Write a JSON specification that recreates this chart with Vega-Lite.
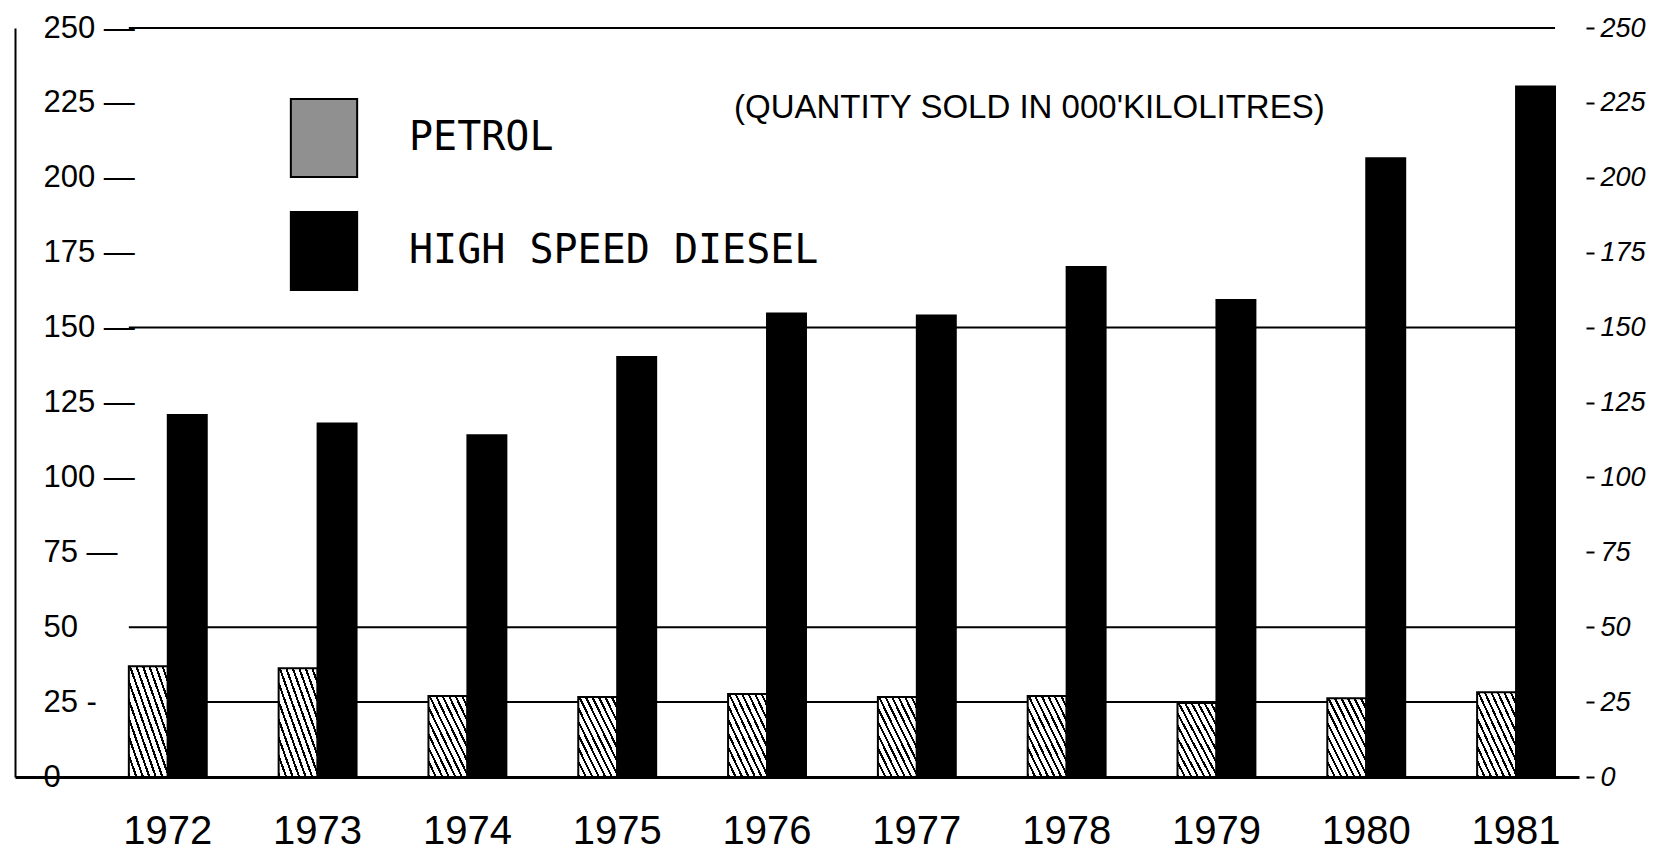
{
  "$schema": "https://vega.github.io/schema/vega-lite/v6.json",
  "width": 1564,
  "height": 749,
  "autosize": "none",
  "padding": {"left": 15, "top": 28, "right": 77, "bottom": 79},
  "background": "white",
  "config": {"view": {"stroke": null}},
  "title": {
    "text": "(QUANTITY SOLD IN 000'KILOLITRES)",
    "anchor": "start",
    "frame": "group",
    "dx": 719,
    "offset": -113,
    "baseline": "top",
    "font": "Liberation Sans",
    "fontSize": 33,
    "fontWeight": "normal",
    "color": "black"
  },
  "datasets": {
    "sales": [
      {"year": "1972", "fuel": "PETROL", "value": 37},
      {"year": "1973", "fuel": "PETROL", "value": 36.3},
      {"year": "1974", "fuel": "PETROL", "value": 27},
      {"year": "1975", "fuel": "PETROL", "value": 26.7},
      {"year": "1976", "fuel": "PETROL", "value": 27.7},
      {"year": "1977", "fuel": "PETROL", "value": 26.7},
      {"year": "1978", "fuel": "PETROL", "value": 27},
      {"year": "1979", "fuel": "PETROL", "value": 24.7},
      {"year": "1980", "fuel": "PETROL", "value": 26.3},
      {"year": "1981", "fuel": "PETROL", "value": 28.3},
      {"year": "1972", "fuel": "HIGH SPEED DIESEL", "value": 120.8},
      {"year": "1973", "fuel": "HIGH SPEED DIESEL", "value": 118},
      {"year": "1974", "fuel": "HIGH SPEED DIESEL", "value": 114.1},
      {"year": "1975", "fuel": "HIGH SPEED DIESEL", "value": 140.2},
      {"year": "1976", "fuel": "HIGH SPEED DIESEL", "value": 154.7},
      {"year": "1977", "fuel": "HIGH SPEED DIESEL", "value": 154},
      {"year": "1978", "fuel": "HIGH SPEED DIESEL", "value": 170.2},
      {"year": "1979", "fuel": "HIGH SPEED DIESEL", "value": 159.2},
      {"year": "1980", "fuel": "HIGH SPEED DIESEL", "value": 206.5},
      {"year": "1981", "fuel": "HIGH SPEED DIESEL", "value": 230.5}
    ],
    "grid": [
      {"level": 25},
      {"level": 50},
      {"level": 150},
      {"level": 250}
    ]
  },
  "layer": [
    {
      "data": {"name": "grid"},
      "mark": {"type": "rule", "color": "black", "strokeWidth": 2},
      "encoding": {
        "x": {"datum": "1972", "bandPosition": 0},
        "x2": {"datum": "1981", "bandPosition": 1},
        "y": {
          "field": "level",
          "type": "quantitative",
          "scale": {"domain": [0, 250], "nice": false, "zero": true},
          "axis": {
            "orient": "left",
            "values": [0, 25, 50, 75, 100, 125, 150, 175, 200, 225, 250],
            "grid": false,
            "domain": true,
            "domainColor": "black",
            "domainWidth": 2,
            "ticks": false,
            "tickSize": 0,
            "labelAlign": "left",
            "labelBaseline": "middle",
            "labelPadding": -28,
            "labelFont": "Liberation Sans",
            "labelFontSize": 31,
            "labelColor": "black",
            "labelFlush": false,
            "labelOverlap": false,
            "labelExpr": "datum.value == 0 ? '0' : datum.value == 25 ? datum.label + ' -' : datum.value == 50 ? datum.label : datum.label + ' —'",
            "title": null
          }
        }
      }
    },
    {
      "data": {"name": "sales"},
      "mark": {"type": "bar", "stroke": "black", "strokeWidth": 2},
      "encoding": {
        "x": {
          "field": "year",
          "type": "nominal",
          "scale": {
            "domain": ["1972", "1973", "1974", "1975", "1976", "1977", "1978", "1979", "1980", "1981"],
            "paddingInner": 0.48,
            "paddingOuter": 0.46,
            "align": 0.826
          },
          "axis": {
            "orient": "bottom",
            "domain": true,
            "domainColor": "black",
            "domainWidth": 3,
            "ticks": false,
            "tickSize": 0,
            "labelPadding": 34,
            "labelAngle": 0,
            "labelAlign": "center",
            "labelBaseline": "top",
            "labelFont": "Liberation Sans",
            "labelFontSize": 40,
            "labelColor": "black",
            "title": null
          }
        },
        "xOffset": {
          "field": "fuel",
          "type": "nominal",
          "scale": {"domain": ["PETROL", "HIGH SPEED DIESEL"], "paddingInner": 0, "paddingOuter": 0}
        },
        "y": {
          "field": "value",
          "type": "quantitative",
          "axis": {
            "orient": "right",
            "values": [0, 25, 50, 75, 100, 125, 150, 175, 200, 225, 250],
            "grid": false,
            "domain": false,
            "ticks": true,
            "tickSize": 8,
            "tickWidth": 2,
            "tickColor": "black",
            "offset": 7,
            "labelPadding": 6,
            "labelFont": "Liberation Sans",
            "labelFontStyle": "italic",
            "labelFontSize": 27,
            "labelColor": "black",
            "labelFlush": false,
            "labelOverlap": false,
            "title": null
          }
        },
        "fill": {
          "field": "fuel",
          "type": "nominal",
          "scale": {"domain": ["PETROL", "HIGH SPEED DIESEL"], "range": ["#909090", "black"]},
          "condition": {
            "test": "datum.fuel === 'PETROL'",
            "value": {
              "gradient": "linear",
              "x1": 0, "y1": 1, "x2": 1, "y2": 0,
              "stops": [
                {"offset": 0, "color": "black"}, {"offset": 0.028, "color": "black"}, {"offset": 0.028, "color": "white"}, {"offset": 0.083, "color": "white"},
                {"offset": 0.083, "color": "black"}, {"offset": 0.111, "color": "black"}, {"offset": 0.111, "color": "white"}, {"offset": 0.167, "color": "white"},
                {"offset": 0.167, "color": "black"}, {"offset": 0.195, "color": "black"}, {"offset": 0.195, "color": "white"}, {"offset": 0.25, "color": "white"},
                {"offset": 0.25, "color": "black"}, {"offset": 0.278, "color": "black"}, {"offset": 0.278, "color": "white"}, {"offset": 0.333, "color": "white"},
                {"offset": 0.333, "color": "black"}, {"offset": 0.361, "color": "black"}, {"offset": 0.361, "color": "white"}, {"offset": 0.417, "color": "white"},
                {"offset": 0.417, "color": "black"}, {"offset": 0.445, "color": "black"}, {"offset": 0.445, "color": "white"}, {"offset": 0.5, "color": "white"},
                {"offset": 0.5, "color": "black"}, {"offset": 0.528, "color": "black"}, {"offset": 0.528, "color": "white"}, {"offset": 0.583, "color": "white"},
                {"offset": 0.583, "color": "black"}, {"offset": 0.611, "color": "black"}, {"offset": 0.611, "color": "white"}, {"offset": 0.667, "color": "white"},
                {"offset": 0.667, "color": "black"}, {"offset": 0.695, "color": "black"}, {"offset": 0.695, "color": "white"}, {"offset": 0.75, "color": "white"},
                {"offset": 0.75, "color": "black"}, {"offset": 0.778, "color": "black"}, {"offset": 0.778, "color": "white"}, {"offset": 0.833, "color": "white"},
                {"offset": 0.833, "color": "black"}, {"offset": 0.861, "color": "black"}, {"offset": 0.861, "color": "white"}, {"offset": 0.917, "color": "white"},
                {"offset": 0.917, "color": "black"}, {"offset": 0.945, "color": "black"}, {"offset": 0.945, "color": "white"}, {"offset": 1, "color": "white"}
              ]
            }
          },
          "legend": {
            "orient": "none",
            "legendX": 269,
            "legendY": 70,
            "title": null,
            "padding": 0,
            "symbolType": "M-0.85,-1H0.85V1H-0.85Z",
            "symbolSize": 6084,
            "symbolStrokeColor": "black",
            "symbolStrokeWidth": 2,
            "symbolOpacity": 1,
            "labelFont": "DejaVu Sans Mono",
            "labelFontSize": 40,
            "labelColor": "black",
            "labelOffset": 45,
            "labelLimit": 800,
            "rowPadding": 27
          }
        }
      }
    }
  ],
  "resolve": {"scale": {"y": "shared"}, "axis": {"y": "independent"}}
}
